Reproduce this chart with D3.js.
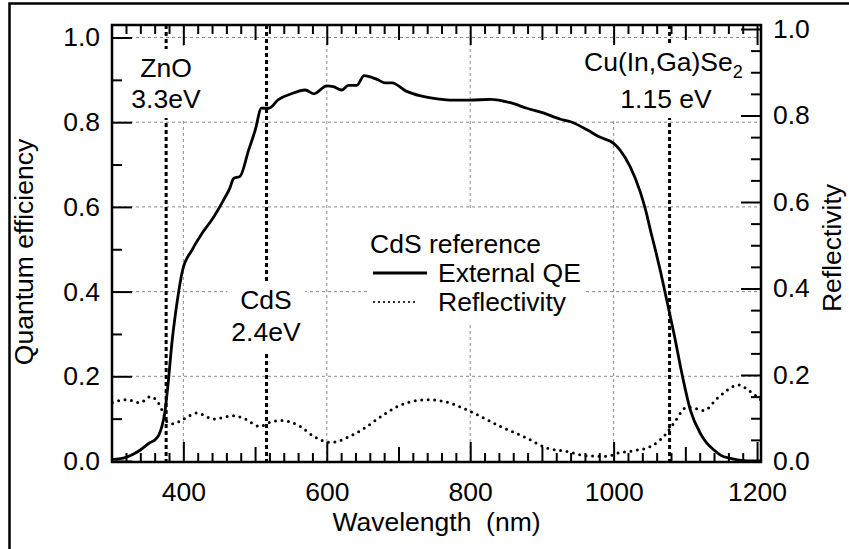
<!DOCTYPE html>
<html><head><meta charset="utf-8">
<script src="https://cdn.jsdelivr.net/npm/d3@7"></script>
<style>
html,body{margin:0;padding:0;background:#fff;}
svg{display:block;font-family:"Liberation Sans",Arial,Helvetica,sans-serif;}
</style></head><body>
<svg id="chart" width="849" height="549"></svg>
<script>
// ---------- data ----------
const wavelengthQE = [301,310,321,330,340,353,361,366,370,374,379,384,391,399,412,425,440,456,465,470,479,491,500,509,519,533,549,570,582,600,609,621,630,642,652,670,681,691,710,731,754,777,800,828,856,879,902,926,940,963,979,1000,1009,1023,1037,1045,1052,1058,1065,1074,1084,1096,1107,1121,1130,1140,1149,1163,1182,1205];
const externalQE   = [0.004,0.005,0.009,0.016,0.026,0.043,0.051,0.062,0.081,0.113,0.187,0.278,0.372,0.451,0.498,0.535,0.570,0.616,0.645,0.667,0.672,0.734,0.780,0.833,0.833,0.854,0.866,0.876,0.867,0.886,0.884,0.876,0.887,0.887,0.910,0.901,0.893,0.893,0.874,0.862,0.855,0.852,0.852,0.854,0.846,0.833,0.822,0.807,0.801,0.782,0.766,0.750,0.734,0.695,0.636,0.590,0.540,0.500,0.450,0.380,0.302,0.200,0.120,0.065,0.042,0.026,0.014,0.006,0.001,0.000];

const wavelengthR = [301,321,340,354,361,368,372,377,386,400,419,442,470,484,507,520,535,563,582,605,632,656,679,702,726,739,763,800,842,879,907,935,963,991,1005,1028,1052,1074,1084,1103,1115,1126,1145,1175,1187,1205];
const reflectivity = [0.136,0.143,0.136,0.150,0.144,0.127,0.112,0.092,0.087,0.098,0.112,0.098,0.106,0.100,0.081,0.090,0.095,0.081,0.058,0.044,0.058,0.081,0.108,0.130,0.141,0.143,0.139,0.116,0.081,0.054,0.031,0.023,0.013,0.012,0.019,0.025,0.035,0.066,0.089,0.126,0.122,0.118,0.147,0.177,0.166,0.143];

const xMajorTicks = [400,600,800,1000,1200];
const xMidTicks = [500,700,900,1100];
const yLeftTicks = [0,0.2,0.4,0.6,0.8,1.0];
const yLeftMinor = [0.1,0.3,0.5,0.7,0.9];
const yRightTicks = [0,0.2,0.4,0.6,0.8,1.0];
const gridX = [400,600,800,1000];
const gridY = [0.2,0.4,0.6,0.8,1.0];

const bandNm = [376, 516, 1078];
const bandName = ["ZnO", "CdS", "Cu(In,Ga)Se"];
const bandEnergy = ["3.3eV", "2.4eV", "1.15 eV"];

const legendTitle = "CdS reference";
const legendLabels = ["External QE", "Reflectivity"];

// ---------- layout ----------
const svg = d3.select("#chart");
const L = 112, R = 761, T = 25, B = 462;
const FS = 26.5;
const x  = d3.scaleLinear().domain([300.5, 1205.5]).range([L, R]);
const yL = d3.scaleLinear().domain([0, 1]).range([461, 37.5]);
const yR = d3.scaleLinear().domain([0, 1]).range([461.5, 29]);

// outer frame
svg.append("rect").attr("x", 9.5).attr("y", 3.5).attr("width", 900).attr("height", 600)
  .attr("fill", "none").attr("stroke", "#000").attr("stroke-width", 2.5);

// grid
const grid = svg.append("g").attr("stroke", "#8a8a8a").attr("stroke-width", 1).attr("stroke-dasharray", "3,3");
grid.selectAll("line.gx").data(gridX).join("line").attr("class","gx")
  .attr("x1", d => x(d)).attr("x2", d => x(d)).attr("y1", T).attr("y2", B);
grid.selectAll("line.gy").data(gridY).join("line").attr("class","gy")
  .attr("y1", d => yL(d)).attr("y2", d => yL(d)).attr("x1", L).attr("x2", R);

// band-gap lines
svg.append("g").selectAll("line").data(bandNm).join("line")
  .attr("x1", d => x(d)).attr("x2", d => x(d)).attr("y1", T).attr("y2", B)
  .attr("stroke", "#000").attr("stroke-width", 3).attr("stroke-dasharray", "4,3");

// band-gap labels with white background
const annot = svg.append("g").attr("font-size", FS).attr("fill", "#000");
const labelPos = [
  {cx: 166, y1: 77, y2: 108},
  {cx: 266, y1: 309, y2: 341},
  {cx: 666, y1: 71, y2: 108}
];
bandNm.forEach((nm, i) => {
  const g = annot.append("g");
  const p = labelPos[i];
  const t1 = g.append("text").attr("text-anchor", "middle").attr("x", p.cx).attr("y", p.y1).text(bandName[i]);
  if (i === 2) {
    t1.attr("x", 584).attr("text-anchor", "start");
    t1.append("tspan").attr("font-size", 18).attr("dy", 7).text("2");
  }
  g.append("text").attr("text-anchor", "middle").attr("x", p.cx).attr("y", p.y2).text(bandEnergy[i]);
  const bb = g.node().getBBox();
  g.insert("rect", ":first-child").attr("x", bb.x - 4).attr("y", bb.y - 4)
    .attr("width", bb.width + 8).attr("height", bb.height + 8).attr("fill", "#fff");
});

// curves
const clip = svg.append("clipPath").attr("id", "clip").append("rect")
  .attr("x", L).attr("y", T).attr("width", R - L).attr("height", B - T);
const plot = svg.append("g").attr("clip-path", "url(#clip)");
const qeData = wavelengthQE.map((w, i) => [w, externalQE[i]]);
const rData = wavelengthR.map((w, i) => [w, reflectivity[i]]);
plot.append("path").datum(rData)
  .attr("d", d3.line().x(d => x(d[0])).y(d => yR(d[1])).curve(d3.curveMonotoneX))
  .attr("fill", "none").attr("stroke", "#000").attr("stroke-width", 3)
  .attr("stroke-linecap", "round").attr("stroke-dasharray", "0,6.5");
plot.append("path").datum(qeData)
  .attr("d", d3.line().x(d => x(d[0])).y(d => yL(d[1])).curve(d3.curveMonotoneX))
  .attr("fill", "none").attr("stroke", "#000").attr("stroke-width", 2.8).attr("stroke-linejoin", "round");

// axes
function styleAxis(g) {
  g.select(".domain").remove();
  g.selectAll(".tick line").attr("stroke", "#000").attr("stroke-width", 2);
  g.selectAll("text").attr("font-size", FS).attr("font-family", null).attr("fill", "#000");
  g.attr("font-family", null).attr("font-size", FS);
}
const minor20 = d3.range(320, 1201, 20).filter(v => v % 100 !== 0);
const rightMinor = d3.range(1, 20).map(i => i * 0.05).filter(v => Math.abs(v * 5 - Math.round(v * 5)) > 1e-6);

// bottom
svg.append("g").attr("transform", `translate(0,${B})`)
  .call(d3.axisBottom(x).tickValues(xMajorTicks).tickSize(-20).tickPadding(20).tickFormat(d3.format("d"))).call(styleAxis);
svg.append("g").attr("transform", `translate(0,${B})`)
  .call(d3.axisBottom(x).tickValues(xMidTicks).tickSize(-15).tickFormat("")).call(styleAxis);
svg.append("g").attr("transform", `translate(0,${B})`)
  .call(d3.axisBottom(x).tickValues(minor20).tickSize(-9).tickFormat("")).call(styleAxis);
// top
svg.append("g").attr("transform", `translate(0,${T})`)
  .call(d3.axisTop(x).tickValues(xMajorTicks).tickSize(-20).tickFormat("")).call(styleAxis);
svg.append("g").attr("transform", `translate(0,${T})`)
  .call(d3.axisTop(x).tickValues(xMidTicks).tickSize(-15).tickFormat("")).call(styleAxis);
svg.append("g").attr("transform", `translate(0,${T})`)
  .call(d3.axisTop(x).tickValues(minor20).tickSize(-9).tickFormat("")).call(styleAxis);
// left
svg.append("g").attr("transform", `translate(${L},0)`)
  .call(d3.axisLeft(yL).tickValues(yLeftTicks).tickSize(-20).tickPadding(12).tickFormat(d3.format(".1f"))).call(styleAxis);
svg.append("g").attr("transform", `translate(${L},0)`)
  .call(d3.axisLeft(yL).tickValues(yLeftMinor).tickSize(-10).tickFormat("")).call(styleAxis);
// right
svg.append("g").attr("transform", `translate(${R},0)`)
  .call(d3.axisRight(yR).tickValues(yRightTicks).tickSize(-20).tickPadding(12).tickFormat(d3.format(".1f"))).call(styleAxis);
svg.append("g").attr("transform", `translate(${R},0)`)
  .call(d3.axisRight(yR).tickValues(rightMinor).tickSize(-10).tickFormat("")).call(styleAxis);

// plot frame
svg.append("rect").attr("x", L).attr("y", T).attr("width", R - L).attr("height", B - T)
  .attr("fill", "none").attr("stroke", "#000").attr("stroke-width", 2.5);

// axis titles
svg.append("text").attr("transform", `translate(33,252) rotate(-90)`).attr("text-anchor", "middle")
  .attr("font-size", FS).text("Quantum efficiency");
svg.append("text").attr("transform", `translate(841,248) rotate(-90)`).attr("text-anchor", "middle")
  .attr("font-size", FS).text("Reflectivity");
svg.append("text").attr("x", (L + R) / 2).attr("y", 531).attr("text-anchor", "middle")
  .attr("font-size", FS).style("white-space", "pre").text("Wavelength  (nm)");

// legend
const lg = svg.append("g").attr("font-size", FS);
lg.append("text").attr("x", 370).attr("y", 253).text(legendTitle);
lg.append("text").attr("x", 438).attr("y", 282).text(legendLabels[0]);
lg.append("text").attr("x", 438).attr("y", 311).text(legendLabels[1]);
lg.append("line").attr("x1", 373).attr("x2", 427).attr("y1", 273).attr("y2", 273)
  .attr("stroke", "#000").attr("stroke-width", 3);
lg.append("line").attr("x1", 374).attr("x2", 416).attr("y1", 302).attr("y2", 302)
  .attr("stroke", "#000").attr("stroke-width", 2.2).attr("stroke-linecap", "round").attr("stroke-dasharray", "0,5");
const lb = lg.node().getBBox();
lg.insert("rect", ":first-child").attr("x", lb.x - 3).attr("y", lb.y - 20)
  .attr("width", lb.width + 6).attr("height", lb.height + 26).attr("fill", "#fff");
</script>
</body></html>
